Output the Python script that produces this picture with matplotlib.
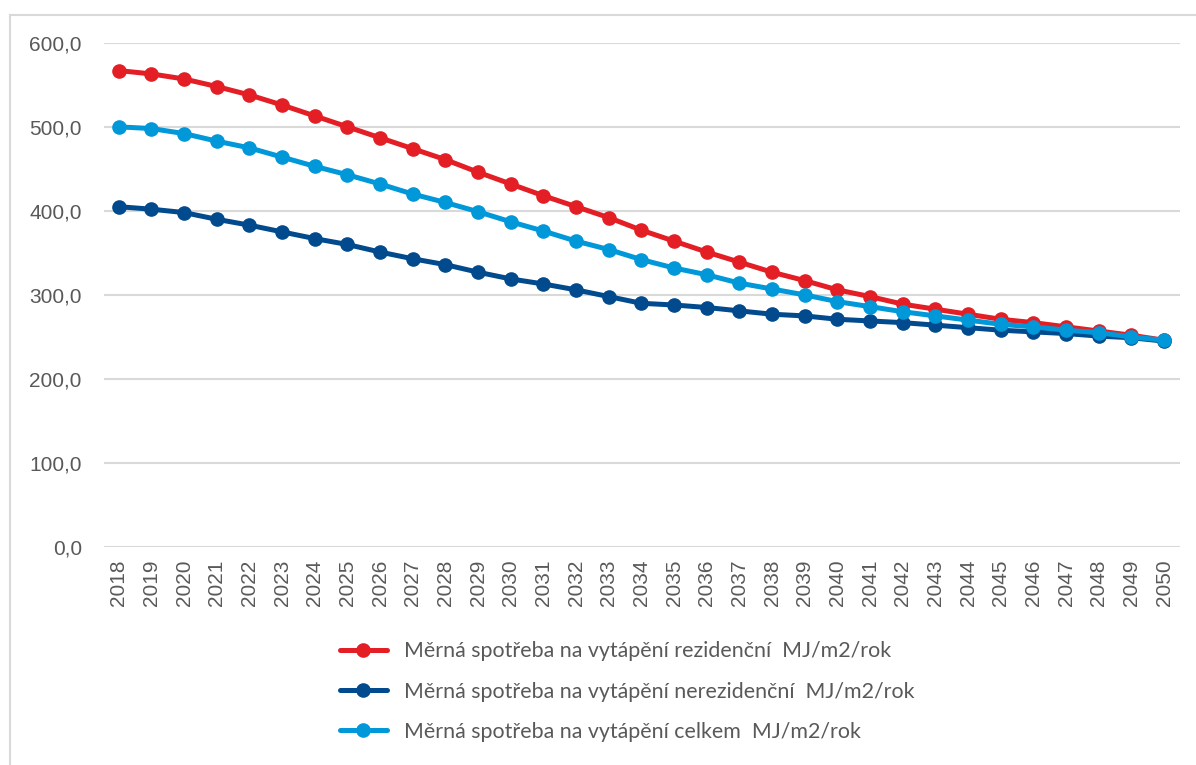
import matplotlib
matplotlib.use("Agg")
import matplotlib.pyplot as plt
from matplotlib.ticker import FuncFormatter, MultipleLocator
from matplotlib.lines import Line2D

# Data
years = list(range(2018, 2051))
rezidencni = [567, 563, 557, 548, 538, 526, 513, 500, 487, 474, 461, 446, 432, 418, 405,
              392, 377, 364, 351, 339, 327, 317, 306, 298, 289, 283, 277, 271, 267, 262,
              257, 252, 246]
nerezidencni = [405, 402, 398, 390, 383, 375, 367, 360, 351, 343, 336, 327, 319, 313, 306,
                298, 290, 288, 285, 281, 277, 275, 271, 269, 267, 264, 261, 258, 256, 254,
                251, 249, 245]
celkem = [500, 498, 492, 483, 475, 464, 453, 443, 432, 420, 410, 399, 387, 376, 364,
          354, 342, 332, 324, 314, 307, 300, 292, 286, 280, 275, 270, 265, 262, 258,
          255, 250, 246]

labels = [
    "Měrná spotřeba na vytápění rezidenční  MJ/m2/rok",
    "Měrná spotřeba na vytápění nerezidenční  MJ/m2/rok",
    "Měrná spotřeba na vytápění celkem  MJ/m2/rok",
]
colors = ["#E31E24", "#004A8D", "#0098D8"]

fig = plt.figure(figsize=(11.96, 7.65), dpi=100)
ax = fig.add_axes([0.087, 0.285, 0.9, 0.659])

for vals, col, lab in zip([rezidencni, nerezidencni, celkem], colors, labels):
    ax.plot(years, vals, color=col, linewidth=3.6, marker="o", markersize=9.5,
            label=lab, solid_capstyle="round")

ax.set_xlim(2017.55, 2050.5)
ax.set_ylim(0, 600)
ax.yaxis.set_major_locator(MultipleLocator(100))
ax.yaxis.set_major_formatter(FuncFormatter(lambda v, p: f"{v:.1f}".replace(".", ",")))
ax.set_xticks(years)
ax.set_xticklabels([str(y) for y in years], rotation=90)

ax.grid(axis="y", color="#D9D9D9", linewidth=1.5)
ax.set_axisbelow(True)
for s in ax.spines.values():
    s.set_visible(False)
ax.tick_params(axis="both", length=0, labelcolor="#595959", labelsize=15)
ax.tick_params(axis="y", pad=16)
ax.tick_params(axis="x", pad=9)
for t in ax.get_xticklabels() + ax.get_yticklabels():
    t.set_fontfamily("Liberation Sans")

# chart frame (Excel style, partly cropped)
fig.add_artist(Line2D([0.0084, 0.0084], [0, 0.98], color="#D9D9D9", linewidth=1.5))
fig.add_artist(Line2D([0.0084, 1.0], [0.98, 0.98], color="#D9D9D9", linewidth=1.5))

fig.legend(loc="upper left", bbox_to_anchor=(0.277, 0.173), frameon=False,
           prop={"family": "Lato", "size": 15.4}, handlelength=2.2, handletextpad=0.8,
           labelspacing=0.95, labelcolor="#595959", borderaxespad=0)

fig.savefig("out.png", dpi=100, facecolor="white")
